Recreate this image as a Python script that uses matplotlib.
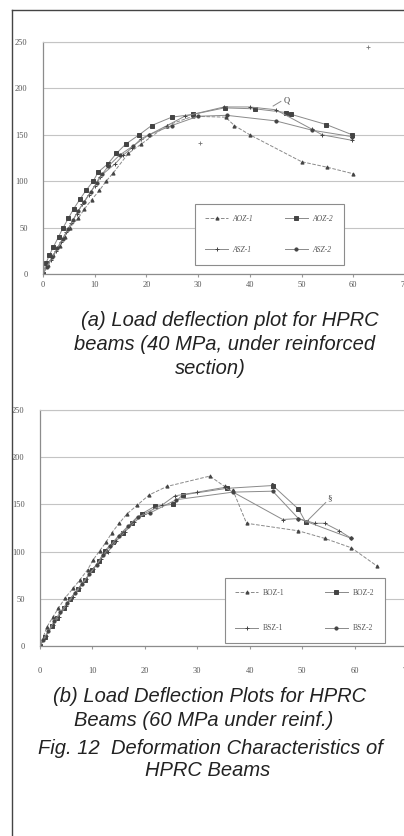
"""Load-deflection plots of HPRC beams (two panels + captions)."""
import matplotlib
matplotlib.use("Agg")
import matplotlib.pyplot as plt
from matplotlib.lines import Line2D

# ---- panel (a): 40 MPa beams ----
A_LABELS = ["AOZ-1", "AOZ-2", "ASZ-1", "ASZ-2"]
AOZ1_X = [0, 1, 2, 3.2, 4.2, 5.2, 6.8, 8, 9.4, 10.9, 12.2, 13.6, 16.5, 19, 23.9, 29, 35.3, 37, 40, 50, 55, 60]
AOZ1_Y = [0, 10, 20, 30, 40, 50, 60, 70, 80, 90, 100, 109, 130, 140, 160, 170, 169, 160, 150, 121, 115, 108]
AOZ2_X = [0, 0.6, 1.2, 2, 3, 3.9, 4.9, 5.9, 7.2, 8.3, 9.7, 10.7, 12.6, 14.2, 16, 18.6, 21, 24.9, 29, 35.1, 41, 47, 48, 54.8, 59.8]
AOZ2_Y = [0, 12, 20, 29, 40, 50, 60, 70, 81, 90, 100, 110, 119, 130, 140, 150, 160, 169, 172, 179, 178, 174, 172, 161, 150]
ASZ1_X = [0, 1.5, 2.5, 3.5, 4.5, 5.5, 6.5, 7.6, 8.8, 10, 11, 14, 15.5, 17.2, 19, 20.5, 24, 27.4, 35, 40, 45, 52, 54, 59.8]
ASZ1_Y = [0, 15, 25, 35, 45, 55, 65, 75, 85, 95, 105, 119, 128, 136, 146, 150, 160, 170, 180, 180, 177, 156, 150, 144]
ASZ2_X = [0, 0.8, 1.8, 2.8, 3.8, 4.8, 5.8, 6.8, 8, 9.2, 10.4, 11.5, 12.6, 14.8, 17.4, 20.5, 24.9, 30, 35.5, 45, 52, 59.8]
ASZ2_Y = [0, 8, 18, 28, 38, 48, 58, 68, 78, 88, 98, 108, 116, 128, 138, 150, 160, 170, 171, 165, 155, 148]
A_STRAY_X = [62.8, 30.3]
A_STRAY_Y = [245, 141]

# ---- panel (b): 60 MPa beams ----
B_LABELS = ["BOZ-1", "BOZ-2", "BSZ-1", "BSZ-2"]
BOZ1_X = [0, 1.3, 2.5, 3.5, 4.8, 6.3, 7.6, 9.1, 10.1, 11.4, 12.6, 13.7, 15.1, 16.6, 18.5, 20.8, 24.2, 32.4, 35.2, 36.8, 39.4, 49.3, 54.3, 59.4, 64.2]
BOZ1_Y = [0, 20, 31, 40, 51, 61, 70, 81, 91, 101, 110, 120, 130, 140, 149, 160, 169, 180, 169, 165, 130, 122, 114, 104, 85]
BOZ2_X = [0, 1, 2.2, 3.3, 4.5, 5.8, 7.2, 8.6, 10, 11.2, 12.4, 13.9, 15.8, 17.5, 19.4, 21.9, 25.3, 27.2, 35.6, 44.4, 49.3, 50.7]
BOZ2_Y = [0, 10, 21, 30, 40, 50, 60, 70, 80, 90, 101, 110, 120, 130, 140, 148, 150, 160, 167, 170, 145, 131]
BSZ1_X = [0, 1.2, 2.4, 3.6, 4.9, 6.2, 7.5, 8.8, 10.2, 11.6, 13, 14.5, 16.2, 18, 19.8, 23.2, 25.7, 30, 35.2, 46.3, 49.3, 52.4, 54.3, 57.1, 59.4]
BSZ1_Y = [0, 11, 22, 31, 42, 52, 61, 71, 82, 92, 100, 111, 121, 131, 140, 149, 159, 163, 168, 134, 135, 130, 130, 122, 114]
BSZ2_X = [0, 0.5, 1.6, 2.7, 3.9, 5.2, 6.6, 8, 9.4, 10.8, 12, 13.4, 15, 16.8, 18.6, 21, 26, 36.8, 44.4, 49.3, 59.4]
BSZ2_Y = [0, 6, 16, 26, 36, 46, 56, 66, 76, 86, 96, 106, 117, 127, 137, 141, 155, 163, 164, 135, 114]

X_TICKS = [0, 10, 20, 30, 40, 50, 60, 70]
Y_TICKS = [0, 50, 100, 150, 200, 250]

CAPTION_A = ["(a) Load deflection plot for HPRC",
             "beams (40 MPa, under reinforced",
             "section)"]
CAPTION_B = ["(b) Load Deflection Plots for HPRC",
             "Beams (60 MPa under reinf.)"]
FIG_CAPTION = ["Fig. 12  Deformation Characteristics of",
               "HPRC Beams"]

W, H = 404, 836
LINE_C = "#8a8a8a"
MARK_C = "#444444"
STYLES = [("^", "--"), ("s", "-"), ("+", "-"), ("o", "-")]


def px_box(left, right, top, bottom):
    """pixel edges -> figure axes rect"""
    return [left / W, 1 - bottom / H, (right - left) / W, (bottom - top) / H]


def style_axes(ax, xpad):
    ax.set_xlim(0, 70)
    ax.set_ylim(0, 250)
    ax.set_xticks(X_TICKS)
    ax.set_yticks(Y_TICKS)
    ax.yaxis.grid(True, color="#c4c4c4", linewidth=0.8)
    ax.set_axisbelow(True)
    for s in ("left", "bottom"):
        ax.spines[s].set_color("#8c8c8c")
        ax.spines[s].set_linewidth(0.9)
    for s in ("top", "right"):
        ax.spines[s].set_color("#c4c4c4")
        ax.spines[s].set_linewidth(0.8)
    ax.tick_params(axis="x", length=2, color="#999", pad=xpad,
                   labelsize=6, labelcolor="#555")
    ax.tick_params(axis="y", length=0, pad=11, labelsize=6, labelcolor="#555")
    for lab in ax.get_xticklabels() + ax.get_yticklabels():
        lab.set_family("Liberation Serif")


def draw_series(ax, xs, ys, labels):
    handles = []
    for (x, y), lab, (m, ls) in zip(zip(xs, ys), labels, STYLES):
        h, = ax.plot(x, y, color=LINE_C, linewidth=0.7, linestyle=ls,
                     marker=m, markersize=2.3 if m != "+" else 3.2,
                     markerfacecolor=MARK_C, markeredgecolor=MARK_C,
                     markeredgewidth=0.7, label=lab)
        handles.append(h)
    return handles


def add_legend(ax, handles, bbox, italic, spacing):
    # legend fills column-wise; reorder so rows read 1,2 / 3,4
    order = [0, 2, 1, 3]
    hs = [handles[i] for i in order]
    leg = ax.legend(hs, [h.get_label() for h in hs], loc="center",
                    bbox_to_anchor=bbox, mode="expand", ncol=2,
                    labelspacing=spacing, borderpad=1.4,
                    handlelength=3.0, handletextpad=0.6, columnspacing=1.5,
                    fancybox=False, framealpha=1, edgecolor="#8c8c8c",
                    prop={"family": "Liberation Serif", "size": 5.5,
                          "style": "italic" if italic else "normal"})
    leg.get_frame().set_linewidth(0.8)
    for t in leg.get_texts():
        t.set_color("#555")


fig = plt.figure(figsize=(W / 100, H / 100), dpi=100)

# panel (a)
ax_a = fig.add_axes(px_box(43, 405, 42, 274))
style_axes(ax_a, xpad=3)
ha_ = draw_series(ax_a, [AOZ1_X, AOZ2_X, ASZ1_X, ASZ2_X],
                  [AOZ1_Y, AOZ2_Y, ASZ1_Y, ASZ2_Y], A_LABELS)
ax_a.plot(A_STRAY_X, A_STRAY_Y, linestyle="none", marker="+",
          markersize=3, color="#777", markeredgewidth=0.6)
ax_a.plot([44.5, 46], [181, 186], color=LINE_C, linewidth=0.7)
ax_a.text(46.5, 187, "Q", fontsize=6, color="#444", va="center",
          family="Liberation Serif")
add_legend(ax_a, ha_, (28.6 / 70, 5.4 / 250, 30.3 / 70, 74.6 / 250), True, 3.0)

# panel (b)
ax_b = fig.add_axes(px_box(40, 407, 410, 646))
style_axes(ax_b, xpad=13)
hb_ = draw_series(ax_b, [BOZ1_X, BOZ2_X, BSZ1_X, BSZ2_X],
                  [BOZ1_Y, BOZ2_Y, BSZ1_Y, BSZ2_Y], B_LABELS)
ax_b.plot([50.7, 54.5], [131, 152], color=LINE_C, linewidth=0.7)
ax_b.text(55.2, 156, "§", fontsize=6.5, color="#444", ha="center", va="center",
          family="Liberation Serif")
ax_b.text(44.4, 168, "I", fontsize=6.5, color="#444", ha="center", va="center",
          family="Liberation Serif", fontweight="bold")
add_legend(ax_b, hb_, (34.5 / 70, 0.0, 32 / 70, 75 / 250), False, 3.6)

# captions
cap = dict(fontsize=14.5, style="italic", family="Liberation Sans",
           color="#222", ha="center", va="center")
for txt, (cx, cy) in zip(CAPTION_A, [(230, 320), (225, 345), (210, 369)]):
    fig.text(cx / W, 1 - cy / H, txt, **cap)
for txt, (cx, cy) in zip(CAPTION_B, [(210, 696), (204, 720)]):
    fig.text(cx / W, 1 - cy / H, txt, **cap)
for txt, (cx, cy) in zip(FIG_CAPTION, [(210, 748), (208, 770)]):
    fig.text(cx / W, 1 - cy / H, txt, **cap)

# page border (left and top rule)
fig.add_artist(Line2D([12 / W, 12 / W], [0, 1 - 10 / H], transform=fig.transFigure,
                      color="#444", linewidth=1.0))
fig.add_artist(Line2D([12 / W, 1], [1 - 10 / H, 1 - 10 / H], transform=fig.transFigure,
                      color="#444", linewidth=1.0))

fig.savefig("out.png", dpi=100)
